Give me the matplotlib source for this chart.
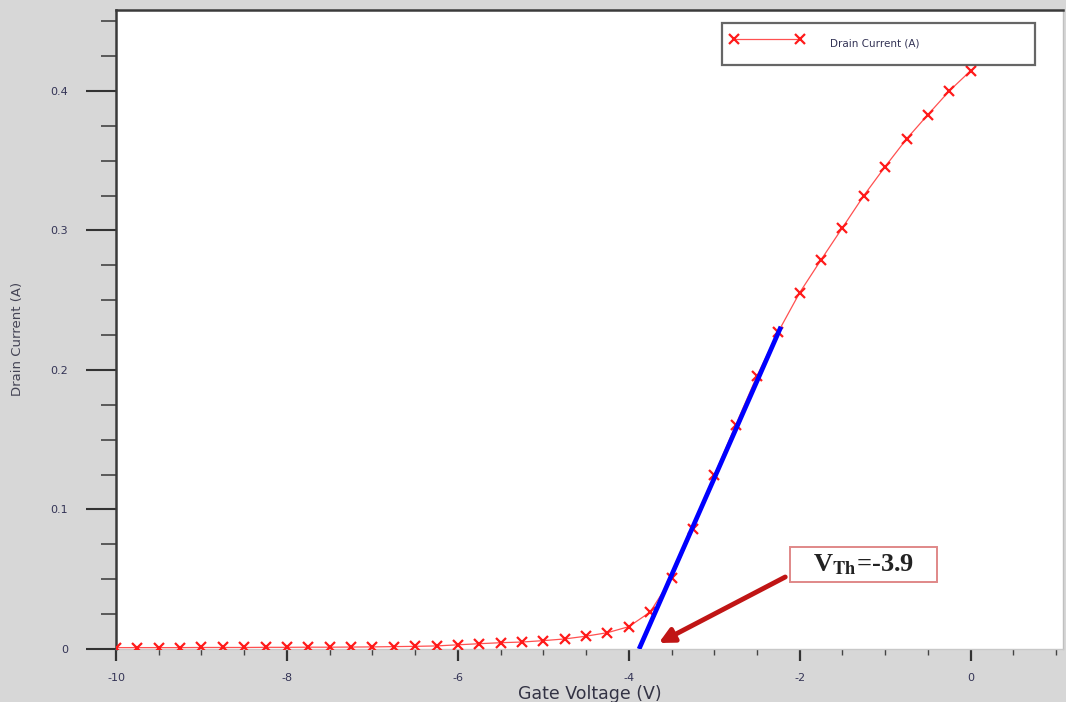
import matplotlib
matplotlib.use("Agg")
import matplotlib.pyplot as plt
from matplotlib.ticker import MultipleLocator
from matplotlib.patches import Rectangle

# ---- data ----
gate_voltage = [-10.0, -9.75, -9.5, -9.25, -9.0, -8.75, -8.5, -8.25, -8.0, -7.75,
                -7.5, -7.25, -7.0, -6.75, -6.5, -6.25, -6.0, -5.75, -5.5, -5.25,
                -5.0, -4.75, -4.5, -4.25, -4.0, -3.75, -3.5, -3.25, -3.0, -2.75,
                -2.5, -2.25, -2.0, -1.75, -1.5, -1.25, -1.0, -0.75, -0.5, -0.25, 0.0]
drain_current = [0.0010, 0.0010, 0.0010, 0.0010, 0.0011, 0.0011, 0.0011, 0.0012, 0.0012, 0.0013,
                 0.0013, 0.0014, 0.0015, 0.0017, 0.0019, 0.0022, 0.0030, 0.0038, 0.0045, 0.0050,
                 0.0060, 0.0072, 0.0092, 0.0117, 0.0160, 0.0265, 0.0507, 0.0860, 0.1245, 0.1605,
                 0.1958, 0.2275, 0.2555, 0.2790, 0.3020, 0.3250, 0.3458, 0.3656, 0.3830, 0.4000, 0.4145]
fit_x = [-3.88, -2.22]
fit_y = [0.0, 0.231]
vth_label = r"V$_{\mathbf{Th}}$=-3.9"
arrow_tail = (-2.17, 0.0516)
arrow_tip = (-3.65, 0.0043)
series_label = "Drain Current (A)"
x_label = "Gate Voltage (V)"
y_label = "Drain Current (A)"
x_ticks = [-10, -8, -6, -4, -2, 0]
y_ticks = [0, 0.1, 0.2, 0.3, 0.4]
y_tick_labels = ['0', '0.1', '0.2', '0.3', '0.4']

plt.rcParams['mathtext.fontset'] = 'stix'
plt.rcParams['font.family'] = ['DejaVu Sans']

fig = plt.figure(figsize=(10.66, 7.02), dpi=100)
fig.patch.set_facecolor('#d7d7d7')
ax = fig.add_axes([0.1088, 0.0755, 0.8884, 0.9103])
ax.set_facecolor('white')

ax.plot(gate_voltage, drain_current, color='#ff5050', lw=0.9, marker='x',
        markersize=6.5, markeredgewidth=1.6, markeredgecolor='#ff1a1a',
        label=series_label, zorder=3)
ax.plot(fit_x, fit_y, color='#0000ff', lw=3.4, solid_capstyle='butt', zorder=4)

ax.set_xlim(-10, 1.08)
ax.set_ylim(0, 0.458)
ax.set_xticks(x_ticks)
ax.set_xticklabels([str(t) for t in x_ticks])
ax.set_yticks(y_ticks)
ax.set_yticklabels(y_tick_labels)
ax.xaxis.set_minor_locator(MultipleLocator(0.5))
ax.yaxis.set_minor_locator(MultipleLocator(0.025))

ax.tick_params(axis='x', which='major', length=8.6, width=1.6, color='#333333',
               labelsize=8, labelcolor='#333355', pad=9, direction='out')
ax.tick_params(axis='x', which='minor', length=4.5, width=1.0, color='#444444', direction='out')
ax.tick_params(axis='y', which='major', length=21.6, width=1.5, color='#333333',
               labelsize=8, labelcolor='#333355', pad=13, direction='out')
ax.tick_params(axis='y', which='minor', length=10.8, width=1.2, color='#444444', direction='out')

for side in ['left', 'top']:
    ax.spines[side].set_color('#3a3a3a')
    ax.spines[side].set_linewidth(1.8)
ax.spines['right'].set_color('#c0c0c0')
ax.spines['right'].set_linewidth(1.0)
ax.spines['bottom'].set_color('#c8c8c8')
ax.spines['bottom'].set_linewidth(1.0)

ax.set_xlabel(x_label, fontsize=12.5, color='#333344', labelpad=1)
ax.set_ylabel(y_label, fontsize=9.5, color='#444455',
              family=['Liberation Sans Narrow', 'DejaVu Sans'])
ax.yaxis.set_label_coords(-0.097, 0.485)

leg = ax.legend(loc='center', bbox_to_anchor=(0.640, 0.906, 0.330, 0.0815),
                mode='expand', numpoints=2, fontsize=7.5, frameon=True,
                fancybox=False, borderpad=0.8, handlelength=7.0,
                handleheight=3.3, handletextpad=2.6, borderaxespad=0)
leg.get_frame().set_edgecolor('#404040')
leg.get_frame().set_linewidth(1.6)
for t in leg.get_texts():
    t.set_color('#333355')

# annotation box (layout in axes fraction)
ax.add_patch(Rectangle((0.7117, 0.1049), 0.1553, 0.0547, transform=ax.transAxes,
                       facecolor='white', edgecolor='#e08888', linewidth=1.4, zorder=6))
ax.text(0.7893, 0.1322, vth_label, transform=ax.transAxes, fontsize=19, color='#222222',
        family=['Liberation Serif', 'DejaVu Serif'], fontweight='bold',
        ha='center', va='center', zorder=7)
ax.annotate('', xy=arrow_tip, xytext=arrow_tail,
            arrowprops=dict(arrowstyle='-|>', color='#c01515', lw=3.5,
                            mutation_scale=22, shrinkA=0, shrinkB=0), zorder=5)

fig.savefig('out.png', dpi=100, facecolor=fig.get_facecolor())
